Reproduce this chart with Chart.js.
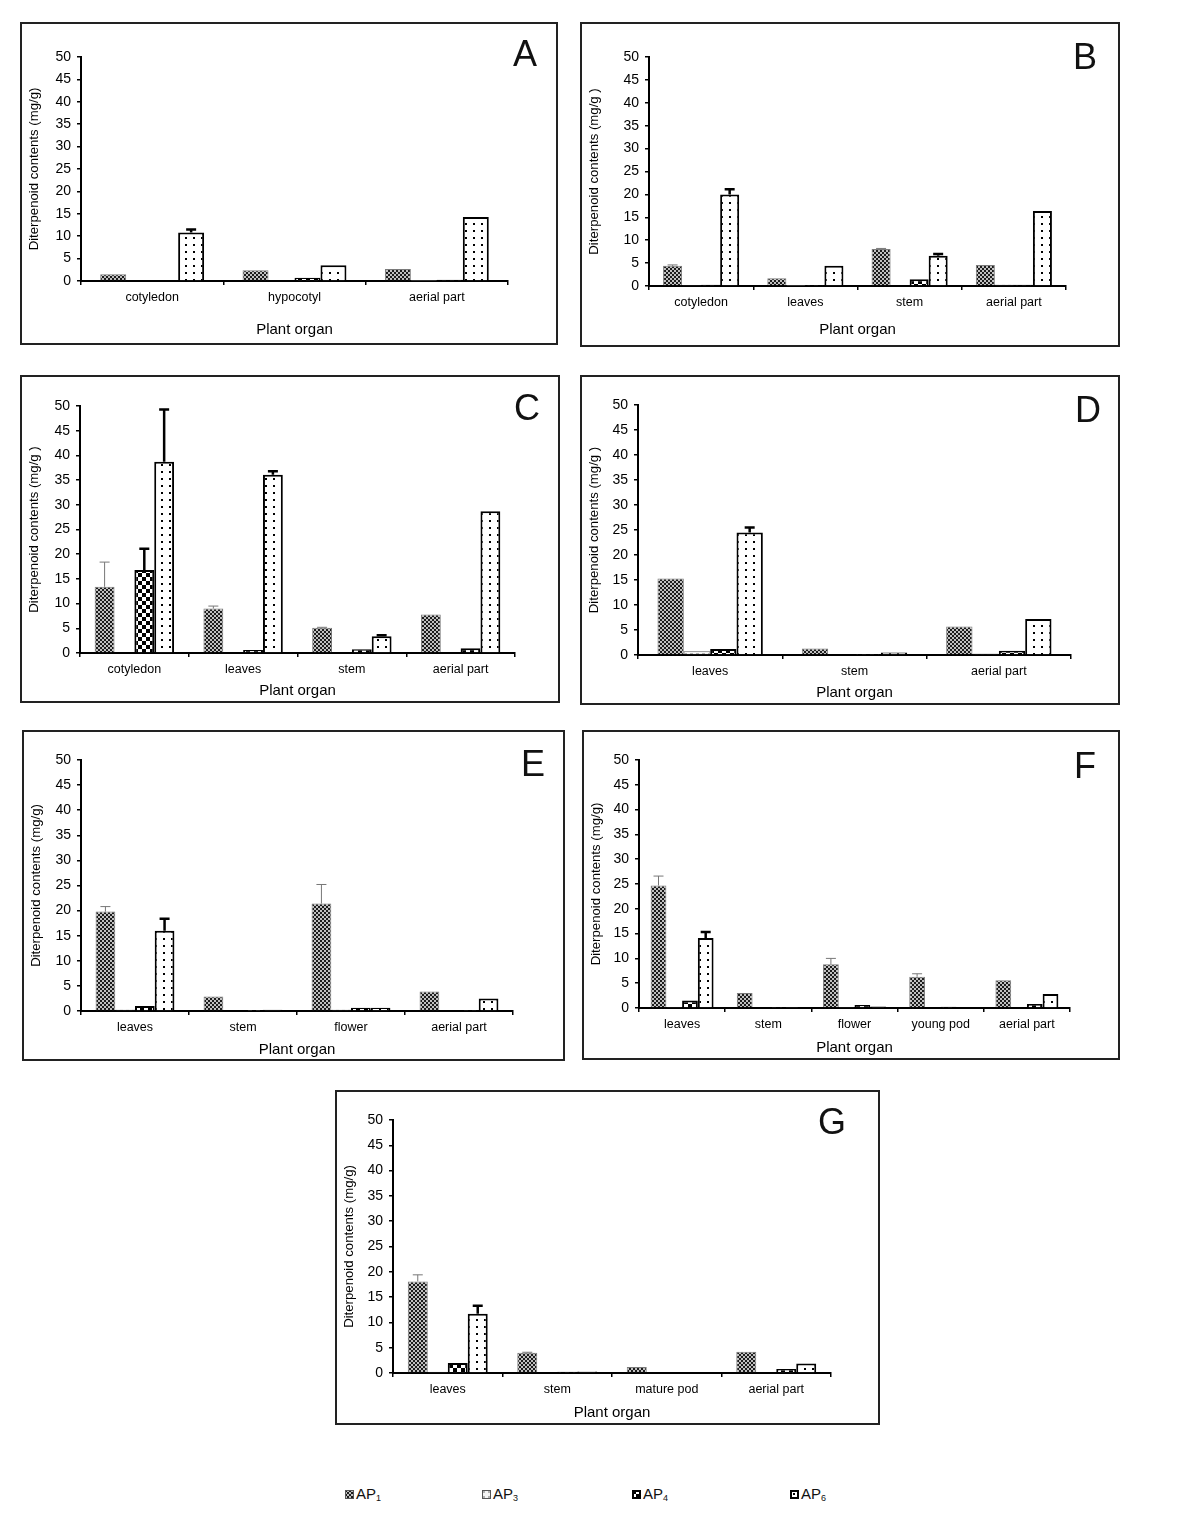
<!DOCTYPE html>
<html>
<head>
<meta charset="utf-8">
<script src="https://cdn.jsdelivr.net/npm/chart.js@4.4.0/dist/chart.umd.min.js"></script>
<style>
  body { margin: 0; background: #fff; width: 1189px; height: 1537px; position: relative; font-family: "Liberation Sans", Arial, sans-serif; color: #111; }
  .box { position: absolute; border: 2px solid #222; box-sizing: border-box; background: #fff; }
  .box canvas { position: absolute; left: 0; top: 0; }
  .letter { position: absolute; font-size: 36px; transform: translate(-50%, -50%); line-height: 1; }
  .leg { position: absolute; font-size: 15px; display: flex; align-items: center; transform: translateY(-50%); }
  .leg canvas { margin-right: 2px; }
  .leg sub { font-size: 9px; vertical-align: -2px; }
</style>
</head>
<body>
<div id="root"></div>
<script>
// data (mg/g); errors are the upper whisker length
const catsA = ["cotyledon", "hypocotyl", "aerial part"];
const ap1A = [1.5, 2.4, 2.7];
const ap3A = [0, 0, 0.05];
const ap4A = [0.2, 0.7, 0.3];
const ap6A = [10.8, 3.5, 14.3];
const err6A = [0.7, 0, 0];

const catsB = ["cotyledon", "leaves", "stem", "aerial part"];
const ap1B = [4.4, 1.7, 8.1, 4.6];
const ap3B = [0.1, 0.05, 0, 0.35];
const ap4B = [0.25, 0.1, 1.45, 0.25];
const ap6B = [20.0, 4.4, 6.6, 16.4];
const err1B = [0.2, 0, 0.1, 0];
const err6B = [1.1, 0, 0.4, 0];

const catsC = ["cotyledon", "leaves", "stem", "aerial part"];
const ap1C = [13.4, 9.0, 5.1, 7.8];
const ap3C = [0, 0, 0, 0];
const ap4C = [16.8, 0.6, 0.75, 0.95];
const ap6C = [38.7, 36.1, 3.4, 28.7];
const err1C = [5.0, 0.5, 0.1, 0];
const err4C = [4.3, 0, 0, 0];
const err6C = [10.6, 0.7, 0.2, 0];

const catsD = ["leaves", "stem", "aerial part"];
const ap1D = [15.3, 1.3, 5.7];
const ap3D = [0.8, 0, 0.3];
const ap4D = [1.2, 0.1, 0.85];
const ap6D = [24.5, 0.5, 7.2];
const err6D = [1.0, 0, 0];

const catsE = ["leaves", "stem", "flower", "aerial part"];
const ap1E = [19.8, 2.9, 21.4, 3.9];
const ap3E = [0.3, 0, 0.3, 0];
const ap4E = [1.0, 0.05, 0.65, 0.2];
const ap6E = [16.0, 0.25, 0.65, 2.5];
const err1E = [1.0, 0, 3.8, 0];
const err6E = [2.4, 0, 0, 0];

const catsF = ["leaves", "stem", "flower", "young pod", "aerial part"];
const ap1F = [24.7, 3.0, 8.8, 6.3, 5.6];
const ap3F = [0.1, 0, 0.1, 0, 0];
const ap4F = [1.5, 0.1, 0.6, 0.25, 0.8];
const ap6F = [14.1, 0.1, 0.3, 0.15, 2.8];
const err1F = [1.9, 0, 1.2, 0.6, 0];
const err6F = [1.2, 0, 0, 0, 0];

const catsG = ["leaves", "stem", "mature pod", "aerial part"];
const ap1G = [18.1, 4.0, 1.2, 4.2];
const ap3G = [0.25, 0, 0, 0];
const ap4G = [2.0, 0.25, 0.1, 0.8];
const ap6G = [11.7, 0.3, 0.1, 1.9];
const err1G = [1.3, 0.1, 0, 0];
const err6G = [1.6, 0, 0, 0];

const seriesNames = ["AP1", "AP3", "AP4", "AP6"];
const yTicks = [0, 5, 10, 15, 20, 25, 30, 35, 40, 45, 50];

Chart.defaults.font.family = '"Liberation Sans", Arial, sans-serif';
Chart.defaults.color = "#000";

// fill patterns
let makePattern = (kind) => {
  const c = document.createElement("canvas");
  const g = c.getContext("2d");
  if (kind == "ap1") {
    c.width = 4; c.height = 4;
    g.fillStyle = "#c0c0c0"; g.fillRect(0, 0, 4, 4);
    g.fillStyle = "#1c1c1c"; g.fillRect(0, 0, 2, 2); g.fillRect(2, 2, 2, 2);
  } else if (kind == "ap3") {
    c.width = 6; c.height = 6;
    g.fillStyle = "#f4f4f4"; g.fillRect(0, 0, 6, 6);
    g.fillStyle = "#b0b0b0"; g.fillRect(0, 0, 3, 3);
  } else if (kind == "ap4") {
    c.width = 8; c.height = 8;
    g.fillStyle = "#fff"; g.fillRect(0, 0, 8, 8);
    g.fillStyle = "#000"; g.fillRect(0, 0, 4, 4); g.fillRect(4, 4, 4, 4);
  } else {
    c.width = 8; c.height = 7;
    g.fillStyle = "#fff"; g.fillRect(0, 0, 8, 7);
    g.fillStyle = "#000"; g.fillRect(3, 3, 2, 2);
  }
  return document.createElement("canvas").getContext("2d").createPattern(c, "repeat");
};
const fills = [makePattern("ap1"), makePattern("ap3"), makePattern("ap4"), makePattern("ap6")];
const borders = ["#7a7a7a", "#a0a0a0", "#000", "#000"];
const borderW = [1, 1, 2, 2];
const errColor = ["#777", "#777", "#000", "#000"];
const errWidth = [1, 1, 2.5, 2.5];

const errorBars = {
  id: "errorBars",
  afterDatasetsDraw(chart) {
    const ctx = chart.ctx;
    const y = chart.scales.y;
    chart.data.datasets.forEach((ds, di) => {
      if (!ds.errors) return;
      const meta = chart.getDatasetMeta(di);
      meta.data.forEach((bar, i) => {
        const e = ds.errors[i];
        if (!e) return;
        const top = y.getPixelForValue(ds.data[i] + e);
        ctx.save();
        ctx.strokeStyle = errColor[di];
        ctx.lineWidth = errWidth[di];
        ctx.beginPath();
        ctx.moveTo(bar.x, bar.y);
        ctx.lineTo(bar.x, top);
        ctx.moveTo(bar.x - 5, top);
        ctx.lineTo(bar.x + 5, top);
        ctx.stroke();
        ctx.restore();
      });
    });
  }
};

// box = outer frame [x, y, w, h]; plot = axis corners on the page
const panels = [
  { letter: "A", box: [20, 22, 538, 323], plot: { l: 81, t: 57, r: 508, b: 281 }, titleY: 330, lpos: [525, 54],
    cats: catsA, data: [ap1A, ap3A, ap4A, ap6A], errs: [null, null, null, err6A], ytitle: "Diterpenoid contents (mg/g)" },
  { letter: "B", box: [580, 22, 540, 325], plot: { l: 649, t: 57, r: 1066, b: 286 }, titleY: 330, lpos: [1085, 57],
    cats: catsB, data: [ap1B, ap3B, ap4B, ap6B], errs: [err1B, null, null, err6B], ytitle: "Diterpenoid contents (mg/g )" },
  { letter: "C", box: [20, 375, 540, 328], plot: { l: 80, t: 406, r: 515, b: 653 }, titleY: 691, lpos: [527, 408],
    cats: catsC, data: [ap1C, ap3C, ap4C, ap6C], errs: [err1C, null, err4C, err6C], ytitle: "Diterpenoid contents (mg/g )" },
  { letter: "D", box: [580, 375, 540, 330], plot: { l: 638, t: 405, r: 1071, b: 655 }, titleY: 693, lpos: [1088, 410],
    cats: catsD, data: [ap1D, ap3D, ap4D, ap6D], errs: [null, null, null, err6D], ytitle: "Diterpenoid contents (mg/g )" },
  { letter: "E", box: [22, 730, 543, 331], plot: { l: 81, t: 760, r: 513, b: 1011 }, titleY: 1050, lpos: [533, 764],
    cats: catsE, data: [ap1E, ap3E, ap4E, ap6E], errs: [err1E, null, null, err6E], ytitle: "Diterpenoid contents (mg/g)" },
  { letter: "F", box: [582, 730, 538, 330], plot: { l: 639, t: 760, r: 1070, b: 1008 }, titleY: 1048, lpos: [1085, 766],
    cats: catsF, data: [ap1F, ap3F, ap4F, ap6F], errs: [err1F, null, null, err6F], ytitle: "Diterpenoid contents (mg/g)" },
  { letter: "G", box: [335, 1090, 545, 335], plot: { l: 393, t: 1120, r: 831, b: 1373 }, titleY: 1413, lpos: [832, 1122],
    cats: catsG, data: [ap1G, ap3G, ap4G, ap6G], errs: [err1G, null, null, err6G], ytitle: "Diterpenoid contents (mg/g)" }
];

const root = document.getElementById("root");

panels.forEach((p) => {
  const [bx, by, bw, bh] = p.box;
  const div = document.createElement("div");
  div.className = "box";
  div.style.left = bx + "px"; div.style.top = by + "px";
  div.style.width = bw + "px"; div.style.height = bh + "px";
  const cv = document.createElement("canvas");
  const cw = bw - 4, ch = bh - 4;
  cv.width = cw; cv.height = ch;
  cv.style.width = cw + "px"; cv.style.height = ch + "px";
  div.appendChild(cv);
  root.appendChild(div);

  const cx = bx + 2, cy = by + 2;
  const lab = document.createElement("div");
  lab.className = "letter";
  lab.textContent = p.letter;
  lab.style.left = p.lpos[0] + "px"; lab.style.top = p.lpos[1] + "px";
  root.appendChild(lab);

  const datasets = p.data.map((d, i) => ({
    label: seriesNames[i],
    data: d,
    errors: p.errs[i],
    backgroundColor: fills[i],
    borderColor: borders[i],
    borderWidth: borderW[i],
    categoryPercentage: 0.73,
    barPercentage: 1.0
  }));

  const titleFont = 15;
  new Chart(cv, {
    type: "bar",
    data: { labels: p.cats, datasets: datasets },
    options: {
      responsive: false,
      animation: false,
      events: [],
      layout: { padding: { left: 0, top: p.plot.t - cy, right: cx + cw - p.plot.r, bottom: 0 } },
      plugins: { legend: { display: false }, tooltip: { enabled: false } },
      scales: {
        x: {
          grid: { drawOnChartArea: false, color: "#000", tickLength: 4, lineWidth: 1.5 },
          border: { color: "#000", width: 2 },
          ticks: { font: { size: 12.5 }, padding: 5, color: "#000", maxRotation: 0 },
          title: { display: true, text: "Plant organ", font: { size: titleFont },
                   padding: { top: 0, bottom: cy + ch - p.titleY - titleFont * 0.6 } },
          afterFit: (s) => { s.height = cy + ch - p.plot.b; }
        },
        y: {
          min: 0, max: 50,
          afterBuildTicks: (s) => { s.ticks = yTicks.map((v) => ({ value: v })); },
          grid: { drawOnChartArea: false, color: "#000", tickLength: 4, lineWidth: 1.5 },
          border: { color: "#000", width: 2 },
          ticks: { font: { size: 14 }, padding: 6, color: "#000" },
          title: { display: true, text: p.ytitle, font: { size: 13.2 }, padding: { top: 4, bottom: 0 } },
          afterFit: (s) => { s.width = p.plot.l - cx; }
        }
      }
    },
    plugins: [errorBars]
  });
});

// legend row under the panels
const legendX = [345, 482, 632, 790];
const legendSub = ["1", "3", "4", "6"];
legendX.forEach((x, i) => {
  const d = document.createElement("div");
  d.className = "leg";
  d.style.left = x + "px"; d.style.top = "1494px";
  const ic = document.createElement("canvas");
  ic.width = 9; ic.height = 9;
  const g = ic.getContext("2d");
  g.fillStyle = fills[i]; g.fillRect(0, 0, 9, 9);
  g.strokeStyle = i < 2 ? "#555" : "#000"; g.lineWidth = i < 2 ? 1 : 2;
  g.strokeRect(i < 2 ? 0.5 : 1, i < 2 ? 0.5 : 1, i < 2 ? 8 : 7, i < 2 ? 8 : 7);
  d.appendChild(ic);
  const t = document.createElement("span");
  t.innerHTML = "AP<sub>" + legendSub[i] + "</sub>";
  d.appendChild(t);
  root.appendChild(d);
});
</script>
</body>
</html>
